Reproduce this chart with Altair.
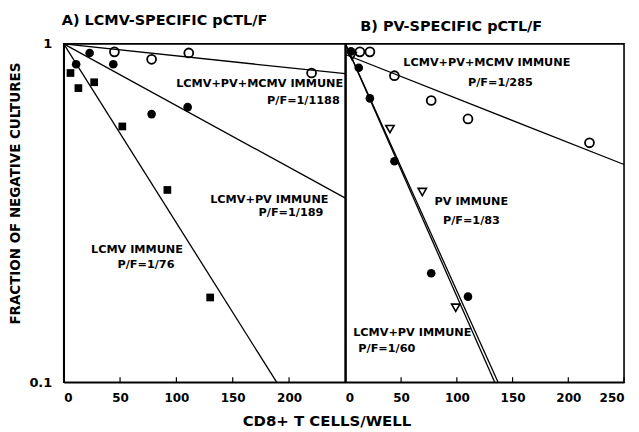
import altair as alt
import pandas as pd

FONT = "DejaVu Sans"

# ---- Panel A: LCMV-specific ----
a_open_x = [45, 78, 111, 220]
a_open_y = [0.947, 0.90, 0.94, 0.82]
a_fill_x = [11, 23, 44, 78, 110]
a_fill_y = [0.87, 0.94, 0.87, 0.62, 0.65]
a_sq_x = [6, 13, 27, 52, 92, 130]
a_sq_y = [0.82, 0.74, 0.77, 0.57, 0.37, 0.178]

a_line_names = ["LCMV+PV+MCMV", "LCMV+PV", "LCMV"]
a_line_x0 = [0, 0, 0]
a_line_y0 = [1.0, 1.0, 1.0]
a_line_x1 = [250, 250, 189]
a_line_y1 = [0.816, 0.35, 0.1]

# ---- Panel B: PV-specific ----
b_open_x = [13, 22, 44, 77, 110, 219]
b_open_y = [0.947, 0.947, 0.805, 0.68, 0.60, 0.51]
b_fill_x = [5, 12, 22, 44, 77, 110]
b_fill_y = [0.95, 0.85, 0.69, 0.45, 0.21, 0.179]
b_tri_x = [6, 40, 69, 99]
b_tri_y = [0.92, 0.56, 0.365, 0.166]

b_line_names = ["LCMV+PV+MCMV", "PV", "LCMV+PV"]
b_line_x0 = [0, 0, 0]
b_line_y0 = [0.93, 1.0, 1.0]
b_line_x1 = [250, 137, 134]
b_line_y1 = [0.44, 0.1, 0.1]

# ---- annotation texts ----
a_labels = ["LCMV+PV+MCMV IMMUNE", "P/F=1/1188", "LCMV+PV IMMUNE", "P/F=1/189",
            "LCMV IMMUNE", "P/F=1/76"]
a_label_x = [248, 245, 235, 230.5, 65, 73]
a_label_y = [0.763, 0.68, 0.345, 0.316, 0.246, 0.222]
a_label_align = ["right", "right", "right", "right", "center", "center"]

b_labels = ["LCMV+PV+MCMV IMMUNE", "P/F=1/285", "PV IMMUNE", "P/F=1/83",
            "LCMV+PV IMMUNE", "P/F=1/60"]
b_label_x = [52, 110, 80, 87.5, 7, 11.6]
b_label_y = [0.88, 0.768, 0.34, 0.30, 0.140, 0.125]

y_ticks = [0.1, 1]
a_x_ticks = [0, 50, 100, 150, 200]
b_x_ticks = [0, 50, 100, 150, 200, 250]

W_A, W_B, H = 283, 280, 340

xs = alt.Scale(domain=[0, 250], nice=False, zero=False)
ys = alt.Scale(type="log", domain=[0.1, 1], nice=False)


def pts(x, y):
    return pd.DataFrame({"x": x, "y": y})


def panel(title, width, open_x, open_y, fill_x, fill_y, third, lines, labels,
          xticks, show_y, title_dx, x_title):
    xaxis = alt.Axis(values=xticks, ticks=False, labelFontSize=12, labelFont=FONT,
                     labelFontWeight="bold", labelPadding=10, domain=True,
                     domainColor="black", domainWidth=1.6, grid=False,
                     title=x_title if x_title else None,
                     titleFont=FONT, titleFontSize=15, titleFontWeight="bold",
                     titleX=264, titlePadding=10, labelColor="black", titleColor="black")
    if show_y:
        yaxis = alt.Axis(values=y_ticks, ticks=False, format="~g", labelFontSize=13,
                         labelFont=FONT, labelFontWeight="bold", labelPadding=12,
                         domain=True, domainColor="black", domainWidth=1.6, grid=False,
                         title="FRACTION OF NEGATIVE CULTURES",
                         titleFont=FONT, titleFontSize=13.5, titleFontWeight="bold",
                         titlePadding=6, titleY=150, labelColor="black", titleColor="black")
    else:
        yaxis = alt.Axis(values=y_ticks, ticks=False, labels=False, domain=True,
                         domainColor="black", domainWidth=1.8, grid=False, title=None)

    X = alt.X("x:Q", scale=xs, axis=xaxis)
    Y = alt.Y("y:Q", scale=ys, axis=yaxis)
    Xn = alt.X("x:Q", scale=xs)
    Yn = alt.Y("y:Q", scale=ys)

    ln = lines
    line_df = pd.DataFrame({"x": ln[1], "y": ln[2], "x2": ln[3], "y2": ln[4]})
    line_layer = alt.Chart(line_df).mark_rule(color="black", strokeWidth=1.3).encode(
        x=X, y=Y, x2="x2:Q", y2="y2:Q")

    open_layer = alt.Chart(pts(open_x, open_y)).mark_point(
        shape="circle", filled=False, color="black", size=80, strokeWidth=1.8, opacity=1
    ).encode(x=Xn, y=Yn)
    fill_layer = alt.Chart(pts(fill_x, fill_y)).mark_point(
        shape="circle", filled=True, color="black", size=75, opacity=1
    ).encode(x=Xn, y=Yn)
    tshape, tfilled, tsize = third[2], third[3], third[4]
    third_layer = alt.Chart(pts(third[0], third[1])).mark_point(
        shape=tshape, filled=tfilled, color="black", size=tsize,
        strokeWidth=1.6, opacity=1
    ).encode(x=Xn, y=Yn)

    tick_df = pd.DataFrame({"x": xticks[1:]})
    tick_layer = alt.Chart(tick_df).mark_rule(color="black", strokeWidth=1.2).encode(
        x=Xn, y=alt.value(H), y2=alt.value(H - 5))

    lab_df = pd.DataFrame({"x": labels[1], "y": labels[2], "t": labels[0],
                           "a": labels[3]})
    text_layers = []
    for al in ["left", "right", "center"]:
        sub = lab_df[lab_df["a"] == al]
        if len(sub):
            text_layers.append(alt.Chart(sub).mark_text(
                align=al, baseline="middle", font=FONT, fontWeight="bold",
                fontSize=11.3, color="black").encode(x=Xn, y=Yn, text="t:N"))

    return alt.layer(line_layer, tick_layer, third_layer, fill_layer, open_layer,
                     *text_layers).properties(
        width=width, height=H,
        title=alt.TitleParams(title, anchor="start", frame="group", font=FONT,
                              fontSize=14.5, fontWeight="bold", dx=title_dx, offset=9,
                              color="black"))


chart_a = panel("A) LCMV-SPECIFIC pCTL/F", W_A, a_open_x, a_open_y, a_fill_x, a_fill_y,
                (a_sq_x, a_sq_y, "square", True, 60),
                (a_line_names, a_line_x0, a_line_y0, a_line_x1, a_line_y1),
                (a_labels, a_label_x, a_label_y, a_label_align),
                a_x_ticks, True, -2, "CD8+ T CELLS/WELL")
chart_b = panel("B) PV-SPECIFIC pCTL/F", W_B, b_open_x, b_open_y, b_fill_x, b_fill_y,
                (b_tri_x, b_tri_y, "triangle-down", False, 70),
                (b_line_names, b_line_x0, b_line_y0, b_line_x1, b_line_y1),
                (b_labels, b_label_x, b_label_y, ["left"] * 6),
                b_x_ticks, False, 15, None)

chart = alt.hconcat(chart_a, chart_b, spacing=0, bounds="flush").properties(
    padding={"left": 0, "top": 3, "right": 5, "bottom": 0}
).configure(background="white").configure_view(stroke="black", strokeWidth=1.6)

chart.save("out.html", embed_options={"renderer": "svg", "actions": False})
